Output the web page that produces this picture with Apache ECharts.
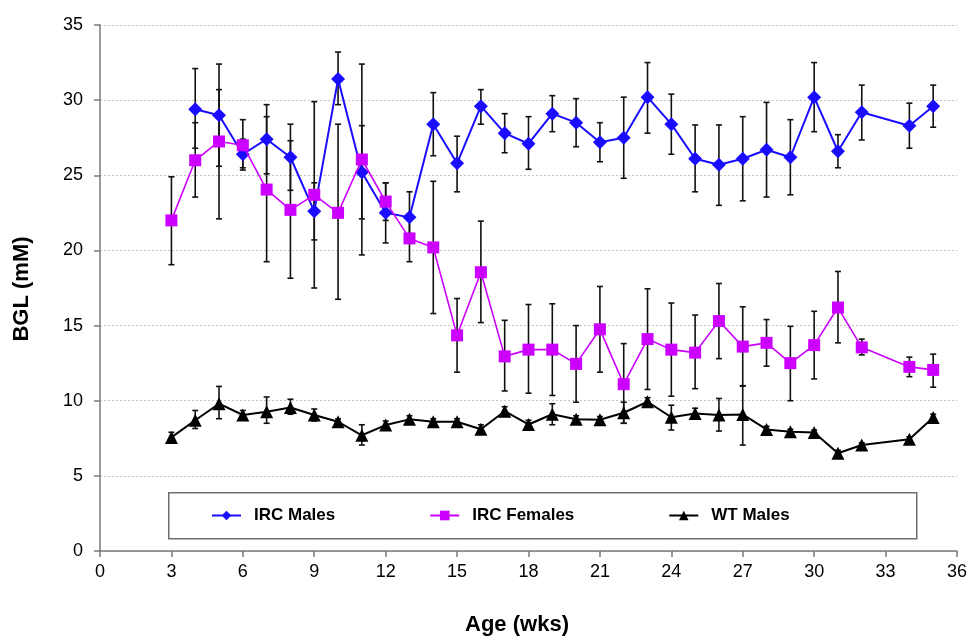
<!DOCTYPE html>
<html>
<head>
<meta charset="utf-8">
<script src="https://cdn.jsdelivr.net/npm/echarts@6/dist/echarts.min.js"></script>
<style>
html,body{margin:0;padding:0;background:#fff;}
#chart{width:970px;height:637px;}
</style>
</head>
<body>
<div id="chart"></div>
<script>
// ---------- DATA ----------
const xTicks = [0, 3, 6, 9, 12, 15, 18, 21, 24, 27, 30, 33, 36];
const yTicks = [0, 5, 10, 15, 20, 25, 30, 35];

const seriesNames = ['IRC Males', 'IRC Females', 'WT Males'];

// IRC Males
const ircMaleWeeks = [4,5,6,7,8,9,10,11,12,13,14,15,16,17,18,19,20,21,22,23,24,25,26,27,28,29,30,31,32,34,35];
const ircMaleMean  = [29.4,29.0,26.4,27.4,26.2,22.6,31.4,25.2,22.5,22.2,28.4,25.8,29.6,27.8,27.1,29.1,28.5,27.2,27.5,30.2,28.4,26.1,25.7,26.1,26.7,26.2,30.2,26.6,29.2,28.3,29.6];
const ircMaleHigh  = [32.1,32.4,27.4,29.7,28.4,24.5,33.2,28.3,24.5,23.9,30.5,27.6,30.7,29.1,28.9,30.3,30.1,28.5,30.2,32.5,30.4,28.35,28.35,28.9,29.85,28.7,32.5,27.7,31.0,29.8,31.0];
const ircMaleLow   = [26.8,25.6,25.5,25.1,24.0,20.7,29.7,22.1,20.5,20.5,26.3,23.9,28.4,26.5,25.4,27.9,26.9,25.9,24.8,27.8,26.4,23.9,23.0,23.3,23.55,23.7,27.9,25.5,27.35,26.8,28.2];

// IRC Females
const ircFemaleWeeks = [3,4,5,6,7,8,9,10,11,12,13,14,15,16,17,18,19,20,21,22,23,24,25,26,27,28,29,30,31,32,34,35];
const ircFemaleMean  = [22.0,26.0,27.25,27.0,24.05,22.7,23.7,22.5,26.05,23.25,20.8,20.2,14.35,18.55,12.95,13.4,13.4,12.45,14.75,11.1,14.1,13.4,13.2,15.3,13.6,13.85,12.5,13.7,16.2,13.55,12.25,12.05];
const ircFemaleHigh  = [24.9,28.5,30.7,28.7,28.9,27.3,29.9,28.4,32.4,24.5,22.3,24.6,16.8,21.95,15.35,16.4,16.45,15.0,17.6,13.8,17.45,16.5,15.7,17.8,16.25,15.4,14.95,15.95,18.6,14.1,12.9,13.1];
const ircFemaleLow   = [19.05,23.55,22.1,25.35,19.25,18.15,17.5,16.75,19.7,22.0,19.25,15.8,11.9,15.2,10.65,10.5,10.35,9.9,11.9,8.5,10.75,10.3,10.8,12.8,11.0,12.3,10.0,11.45,13.85,13.05,11.6,10.9];

// WT Males
const wtMaleWeeks = [3,4,5,6,7,8,9,10,11,12,13,14,15,16,17,18,19,20,21,22,23,24,25,26,27,28,29,30,31,32,34,35];
const wtMaleMean  = [7.56,8.7,9.8,9.05,9.26,9.55,9.05,8.6,7.7,8.38,8.76,8.6,8.6,8.1,9.3,8.42,9.1,8.76,8.73,9.2,9.93,8.9,9.15,9.05,9.09,8.09,7.93,7.89,6.5,7.05,7.43,8.89];
const wtMaleHigh  = [7.9,9.35,10.95,9.35,10.25,10.1,9.45,8.8,8.4,8.65,9.0,8.8,8.8,8.4,9.6,8.7,9.8,9.0,8.95,9.9,10.2,9.7,9.5,10.15,10.97,8.3,8.1,8.05,6.7,7.2,7.6,9.1];
const wtMaleLow   = [7.2,8.15,8.8,8.75,8.5,9.1,8.65,8.4,7.05,8.1,8.5,8.4,8.4,7.8,9.0,8.15,8.4,8.5,8.5,8.5,9.7,8.05,8.8,7.98,7.05,7.9,7.75,7.7,6.3,6.9,7.25,8.7];

// ---------- BUILD ----------
function pairs(xs, ys){ return xs.map((x,i)=>[x, ys[i]]); }
function triples(xs, lo, hi){ return xs.map((x,i)=>[x, lo[i], hi[i]]); }

function errRender(params, api){
  const x = api.value(0), lo = api.value(1), hi = api.value(2);
  const pH = api.coord([x, hi]);
  const pL = api.coord([x, lo]);
  const cw = 3;
  const st = {stroke:'#111', lineWidth:1.6};
  return {type:'group', children:[
    {type:'line', shape:{x1:pH[0], y1:pH[1], x2:pL[0], y2:pL[1]}, style:st},
    {type:'line', shape:{x1:pH[0]-cw, y1:pH[1], x2:pH[0]+cw, y2:pH[1]}, style:st},
    {type:'line', shape:{x1:pL[0]-cw, y1:pL[1], x2:pL[0]+cw, y2:pL[1]}, style:st}
  ]};
}

const FONT = '"Liberation Sans", Arial, sans-serif';
const blue = '#1a0dff', pink = '#cc00ff', black = '#000000';

const chart = echarts.init(document.getElementById('chart'), null, {renderer:'canvas'});
chart.setOption({
  animation:false,
  backgroundColor:'#ffffff',
  grid:{left:100, right:13, top:25, bottom:86, containLabel:false},
  xAxis:{
    type:'value', min:xTicks[0], max:xTicks[xTicks.length-1], interval:3,
    axisLine:{show:true, onZero:false, lineStyle:{color:'#7a7a7a', width:1.5}},
    axisTick:{show:true, length:6, lineStyle:{color:'#7a7a7a', width:1.5}},
    axisLabel:{color:'#000', fontFamily:FONT, fontSize:18, margin:12},
    splitLine:{show:false}
  },
  yAxis:{
    type:'value', min:yTicks[0], max:yTicks[yTicks.length-1], interval:5,
    axisLine:{show:true, lineStyle:{color:'#7a7a7a', width:1.5}},
    axisTick:{show:true, length:6, lineStyle:{color:'#7a7a7a', width:1.5}},
    axisLabel:{color:'#000', fontFamily:FONT, fontSize:18, margin:17},
    splitLine:{show:true, lineStyle:{color:'#c4c4c4', type:[2,2], width:1}}
  },
  legend:{
    data:seriesNames,
    left:211, top:507, padding:0,
    itemWidth:29, itemHeight:12, itemGap:94,
    textStyle:{fontFamily:FONT, fontSize:17, fontWeight:'bold', color:'#000', padding:[0,0,0,8]}
  },
  graphic:[
    {type:'rect', left:168, top:492, shape:{width:748, height:46}, style:{fill:'#fff', stroke:'#6e6e6e', lineWidth:1.5}, z:0},
    {type:'text', x:22, y:289, rotation:Math.PI/2, style:{text:'BGL (mM)', font:'bold 22px '+FONT, fill:'#000', textAlign:'center', textVerticalAlign:'middle'}},
    {type:'text', x:517, y:625, style:{text:'Age (wks)', font:'bold 22px '+FONT, fill:'#000', textAlign:'center', textVerticalAlign:'middle'}}
  ],
  series:[
    {type:'custom', renderItem:errRender, data:triples(ircMaleWeeks, ircMaleLow, ircMaleHigh), encode:{x:0, y:[1,2]}, z:1, silent:true},
    {type:'custom', renderItem:errRender, data:triples(ircFemaleWeeks, ircFemaleLow, ircFemaleHigh), encode:{x:0, y:[1,2]}, z:1, silent:true},
    {type:'custom', renderItem:errRender, data:triples(wtMaleWeeks, wtMaleLow, wtMaleHigh), encode:{x:0, y:[1,2]}, z:1, silent:true},
    {name:seriesNames[0], type:'line', data:pairs(ircMaleWeeks, ircMaleMean), z:3,
      symbol:'diamond', symbolSize:14, itemStyle:{color:blue}, lineStyle:{color:blue, width:2}},
    {name:seriesNames[1], type:'line', data:pairs(ircFemaleWeeks, ircFemaleMean), z:4,
      symbol:'rect', symbolSize:12, itemStyle:{color:pink}, lineStyle:{color:pink, width:1.6}},
    {name:seriesNames[2], type:'line', data:pairs(wtMaleWeeks, wtMaleMean), z:5,
      symbol:'triangle', symbolSize:13, itemStyle:{color:black}, lineStyle:{color:black, width:2}}
  ]
});
</script>
</body>
</html>
